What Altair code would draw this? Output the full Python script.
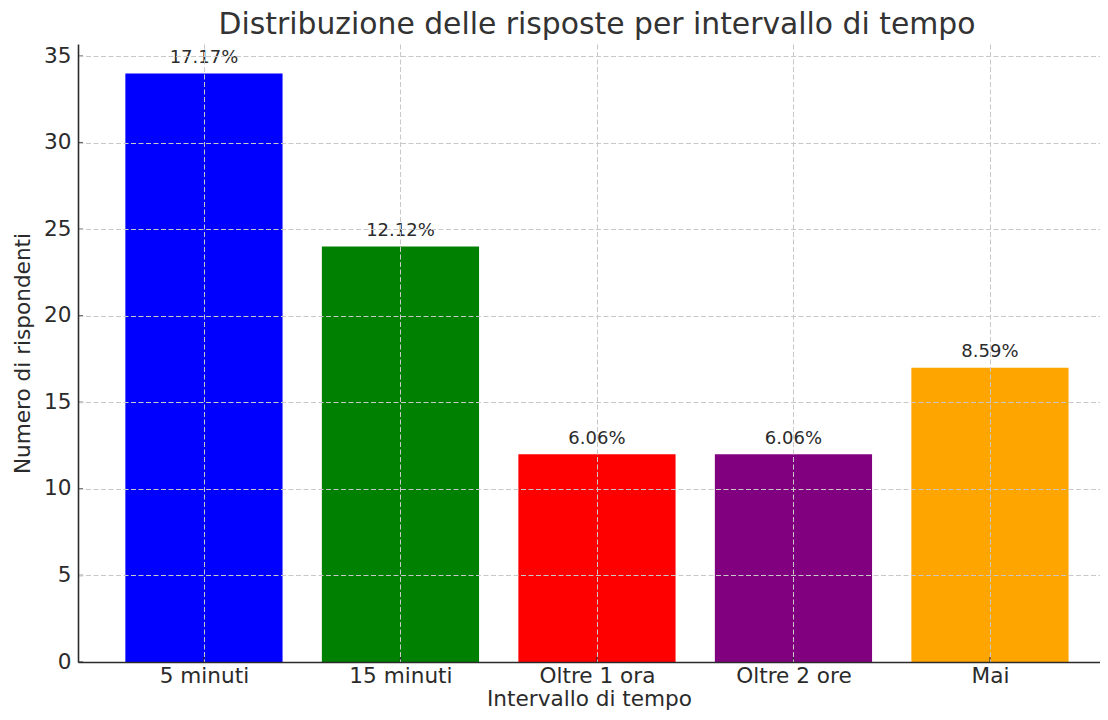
import json
import altair as alt
import pandas as pd

categories = ["5 minuti", "15 minuti", "Oltre 1 ora", "Oltre 2 ore", "Mai"]
counts = [34, 24, 12, 12, 17]
percent_labels = ["17.17%", "12.12%", "6.06%", "6.06%", "8.59%"]
bar_colors = ["#0000ff", "#008000", "#ff0000", "#800080", "#ffa500"]
y_tick_values = [0, 5, 10, 15, 20, 25, 30, 35]

df = pd.DataFrame({
    "idx": list(range(len(categories))),
    "cat": categories,
    "count": counts,
    "pct": percent_labels,
})
yt = pd.DataFrame({"yv": y_tick_values})

FONT = "DejaVu Sans"
TXT = "#2b2b2b"
W, H = 1022, 618

label_expr = json.dumps(categories) + "[datum.value]"

xscale = alt.Scale(domain=[-0.641, 4.560], nice=False, zero=False)
yscale = alt.Scale(domain=[0, 35.7], nice=False)

xaxis = alt.Axis(values=list(range(len(categories))), labelExpr=label_expr,
                 title="Intervallo di tempo", grid=True, ticks=False,
                 labelPadding=3, titlePadding=2, zindex=1)
yaxis = alt.Axis(values=y_tick_values, title="Numero di rispondenti",
                 grid=True, ticks=False, labelPadding=7, titlePadding=9, zindex=1)

base = alt.Chart(df)

bars = base.transform_calculate(
    x0="datum.idx - 0.4", x1="datum.idx + 0.4"
).mark_bar(opacity=1).encode(
    x=alt.X("x0:Q", scale=xscale, axis=xaxis),
    x2="x1:Q",
    y=alt.Y("count:Q", scale=yscale, axis=yaxis),
    y2=alt.datum(0),
    color=alt.Color("cat:N", scale=alt.Scale(domain=categories, range=bar_colors),
                    legend=None),
)

texts = base.mark_text(
    baseline="alphabetic", align="center", dy=-10.5, fontSize=18, font=FONT, color=TXT
).encode(
    x=alt.X("idx:Q", scale=xscale, axis=xaxis),
    y=alt.Y("count:Q", scale=yscale, axis=yaxis),
    text="pct:N",
)

xticks = base.mark_tick(orient="vertical", size=10, thickness=1.5, color=TXT, clip=True).encode(
    x=alt.X("idx:Q", scale=xscale, axis=xaxis),
    y=alt.datum(0, scale=yscale, axis=yaxis),
)

yticks = alt.Chart(yt).mark_tick(orient="horizontal", size=10, thickness=1.5, color=TXT, clip=True).encode(
    x=alt.value(0),
    y=alt.Y("yv:Q", scale=yscale, axis=yaxis),
)

chart = alt.layer(bars, texts, xticks, yticks).properties(
    width=W, height=H,
    title=alt.TitleParams("Distribuzione delle risposte per intervallo di tempo",
                          fontSize=29.8, font=FONT, color="#333333", fontWeight="normal",
                          anchor="middle", offset=4, dx=8),
    padding={"left": 70, "top": 36, "right": 0, "bottom": 50},
    autosize=alt.AutoSizeParams(type="none"),
).configure_view(stroke=None).configure_axis(
    labelFont=FONT, titleFont=FONT, labelFontSize=21.6, titleFontSize=21.6,
    labelColor=TXT, titleColor=TXT, titleFontWeight="normal",
    domainColor=TXT, domainWidth=1.6,
    gridColor="#c8c8c8", gridDash=[5, 2.5], gridWidth=1,
)

chart.save("out.html", embed_options={"renderer": "svg", "actions": False})
